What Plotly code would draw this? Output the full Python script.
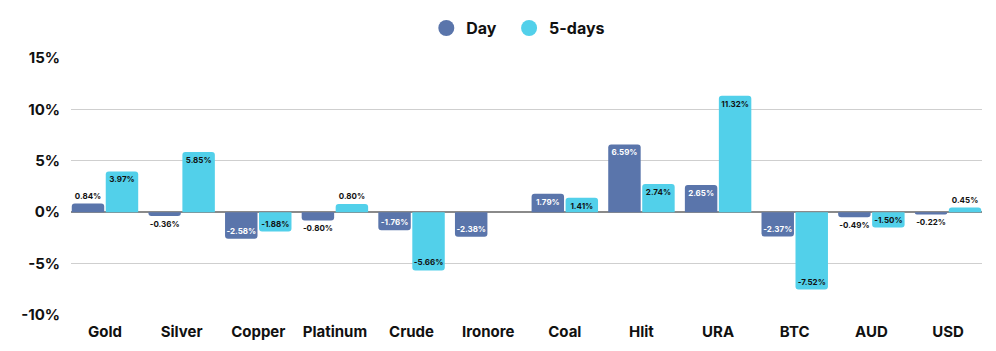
import plotly.graph_objects as go

categories = ["Gold", "Silver", "Copper", "Platinum", "Crude", "Ironore", "Coal", "Hlit", "URA", "BTC", "AUD", "USD"]
day = [0.84, -0.36, -2.58, -0.80, -1.76, -2.38, 1.79, 6.59, 2.65, -2.37, -0.49, -0.22]
five_days = [3.97, 5.85, -1.88, 0.80, -5.66, None, 1.41, 2.74, 11.32, -7.52, -1.50, 0.45]
y_ticks = [-10, -5, 0, 5, 10, 15]
series_names = ["Day", "5-days"]

DAY_C = "#5A75AB"
FIVE_C = "#52D0EA"
FONT = "Inter"
BARGAP = 0.113
PAD = "\u00a0\u00a0"

def positions(vals):
    return ["inside" if (v is not None and abs(v) >= 1) else "outside" for v in vals]

def text_colors(vals, inside_color):
    return [inside_color if (v is not None and abs(v) >= 1) else "#111111" for v in vals]

fig = go.Figure()
for name, legend_name, vals, col, inside_col in [
    (series_names[0], series_names[0] + PAD, day, DAY_C, "white"),
    (series_names[1], series_names[1], five_days, FIVE_C, "#111111"),
]:
    fig.add_trace(go.Bar(
        x=categories, y=vals, name=name, marker=dict(color=col, cornerradius=3, line=dict(width=0)),
        texttemplate="%{y:.2f}%", textposition=positions(vals), insidetextanchor="end", textangle=0,
        textfont=dict(family=FONT, size=8, weight=700, color=text_colors(vals, inside_col)),
        constraintext="none", cliponaxis=False, showlegend=False, hoverinfo="skip",
    ))
    fig.add_trace(go.Scatter(
        x=[None], y=[None], mode="markers", name=legend_name,
        marker=dict(color=col, size=17, symbol="circle"), showlegend=True,
    ))

fig.update_layout(
    width=996, height=351, margin=dict(l=71, r=14, t=58, b=36, autoexpand=False),
    paper_bgcolor="white", plot_bgcolor="white",
    barmode="group", bargap=BARGAP, bargroupgap=0.045,
    font=dict(family=FONT, color="#111111"),
    legend=dict(orientation="h", x=0.491, xanchor="center", y=0.92, yanchor="middle",
                yref="container", font=dict(family=FONT, size=16, weight=700), itemwidth=30,
                traceorder="normal"),
    uniformtext=dict(mode=False),
)
fig.update_xaxes(showgrid=False, showline=False, ticks="", automargin=False,
                 range=[-0.5 + BARGAP / 2, len(categories) - 0.5 - BARGAP / 2],
                 tickfont=dict(family=FONT, size=15, weight=700, color="#111111"), ticklabelstandoff=6)
fig.update_yaxes(range=[-10, 15], tickvals=y_ticks, ticktext=[f"{v}%" for v in y_ticks], automargin=False,
                 showgrid=True, gridcolor="#CFCFCF", gridwidth=1,
                 zeroline=True, zerolinecolor="#8A8A8A", zerolinewidth=1.5,
                 tickfont=dict(family=FONT, size=15, weight=700, color="#111111"), ticklabelstandoff=10)

fig.write_html("out.html")
